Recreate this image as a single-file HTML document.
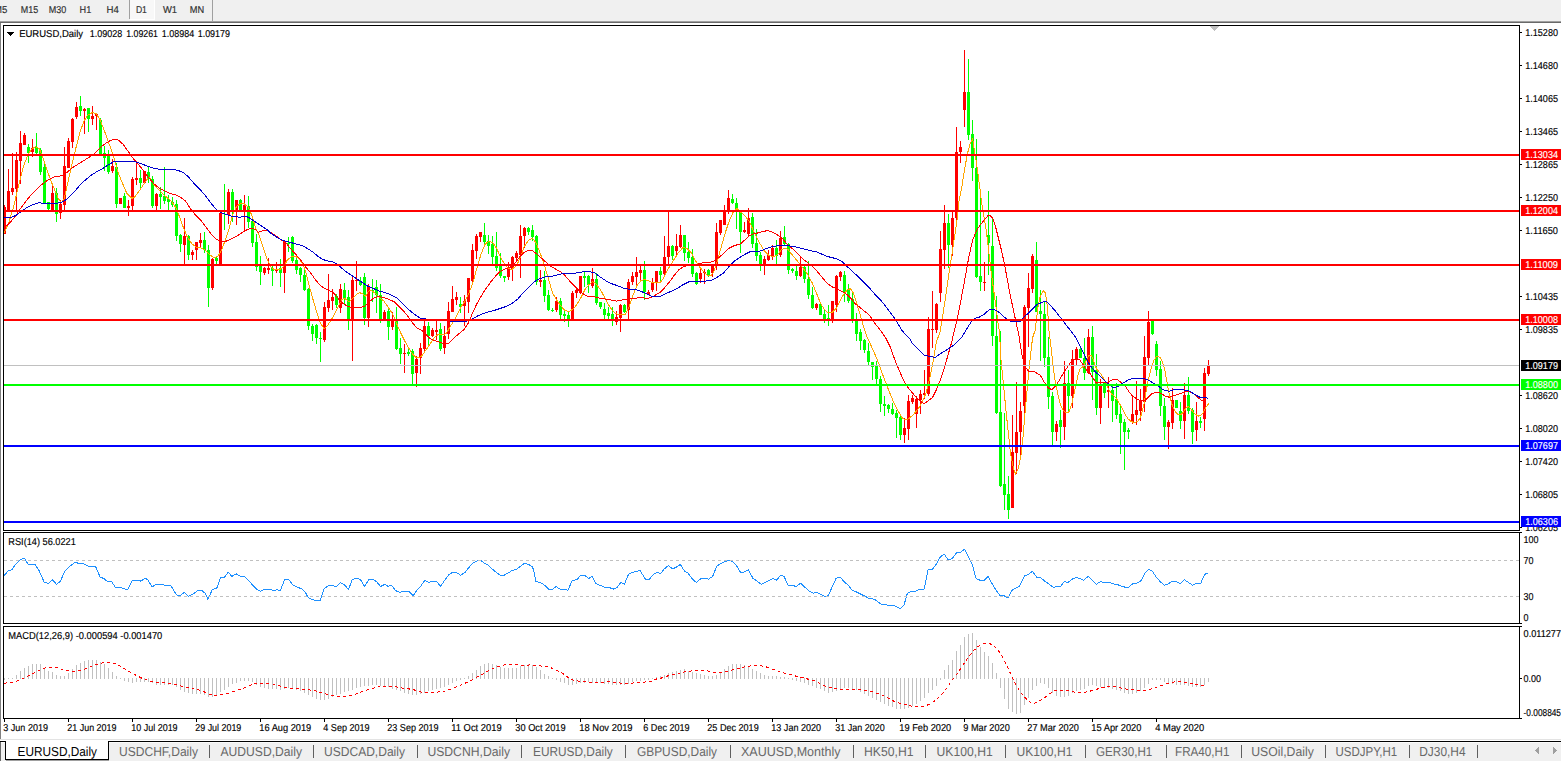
<!DOCTYPE html>
<html><head><meta charset="utf-8"><title>EURUSD,Daily</title>
<style>
html,body{margin:0;padding:0;background:#fff;overflow:hidden}
svg{display:block;font-family:"Liberation Sans", sans-serif;}
text{font-family:"Liberation Sans", sans-serif;}
.ce{shape-rendering:crispEdges}
</style></head>
<body>
<svg width="1561" height="761" viewBox="0 0 1561 761" shape-rendering="crispEdges" text-rendering="geometricPrecision">
<rect x="0" y="0" width="1561" height="761" fill="#ffffff" />
<rect x="0" y="0" width="1561" height="21" fill="#f0f0f0" />
<rect x="0" y="21" width="1561" height="1" fill="#a0a0a0" />
<rect x="0" y="22" width="1561" height="1" fill="#696969" />
<rect x="130" y="0" width="24" height="19" fill="#f8f8f8" />
<rect x="154" y="0" width="1" height="20" fill="#ffffff" />
<rect x="130" y="19" width="25" height="1" fill="#ffffff" />
<rect x="129" y="0" width="1" height="19" fill="#a0a0a0" />
<rect x="212" y="0" width="1" height="21" fill="#a0a0a0" />
<text x="-6.0" y="13" font-size="10" fill="#3c3c3c" text-anchor="start" textLength="13.3" lengthAdjust="spacingAndGlyphs" stroke="#000" stroke-width="0.15">M5</text>
<text x="20.8" y="13" font-size="10" fill="#3c3c3c" text-anchor="start" textLength="17.4" lengthAdjust="spacingAndGlyphs" stroke="#000" stroke-width="0.15">M15</text>
<text x="48.8" y="13" font-size="10" fill="#3c3c3c" text-anchor="start" textLength="17.5" lengthAdjust="spacingAndGlyphs" stroke="#000" stroke-width="0.15">M30</text>
<text x="79.6" y="13" font-size="10" fill="#3c3c3c" text-anchor="start" textLength="11.7" lengthAdjust="spacingAndGlyphs" stroke="#000" stroke-width="0.15">H1</text>
<text x="106.5" y="13" font-size="10" fill="#3c3c3c" text-anchor="start" textLength="12.3" lengthAdjust="spacingAndGlyphs" stroke="#000" stroke-width="0.15">H4</text>
<text x="135.9" y="13" font-size="10" fill="#3c3c3c" text-anchor="start" textLength="11.0" lengthAdjust="spacingAndGlyphs" stroke="#000" stroke-width="0.15">D1</text>
<text x="162.9" y="13" font-size="10" fill="#3c3c3c" text-anchor="start" textLength="14.1" lengthAdjust="spacingAndGlyphs" stroke="#000" stroke-width="0.15">W1</text>
<text x="189.8" y="13" font-size="10" fill="#3c3c3c" text-anchor="start" textLength="14.4" lengthAdjust="spacingAndGlyphs" stroke="#000" stroke-width="0.15">MN</text>
<rect x="0" y="23" width="1" height="716" fill="#808080" />
<rect x="3" y="25" width="1517" height="1" fill="#000" />
<rect x="3" y="530" width="1517" height="1" fill="#000" />
<rect x="3" y="25" width="1" height="506" fill="#000" />
<rect x="1519" y="25" width="1" height="506" fill="#000" />
<rect x="3" y="532" width="1517" height="1" fill="#000" />
<rect x="3" y="623" width="1517" height="1" fill="#000" />
<rect x="3" y="532" width="1" height="92" fill="#000" />
<rect x="1519" y="532" width="1" height="92" fill="#000" />
<rect x="3" y="626" width="1517" height="1" fill="#000" />
<rect x="3" y="718" width="1517" height="1" fill="#000" />
<rect x="3" y="626" width="1" height="93" fill="#000" />
<rect x="1519" y="626" width="1" height="93" fill="#000" />
<path d="M4 205h1v29h-1zM4 207h2v27h-2zM8 169h1v42h-1zM7 191h3v20h-3zM12 153h1v42h-1zM11 188h3v4h-3zM16 152h1v58h-1zM15 160h3v29h-3zM20 131h1v53h-1zM19 143h3v18h-3zM24 133h1v12h-1zM23 135h3v10h-3zM32 139h1v18h-1zM31 148h3v4h-3zM52 186h1v25h-1zM51 193h3v18h-3zM60 200h1v19h-1zM59 204h3v9h-3zM64 147h1v64h-1zM63 166h3v39h-3zM68 138h1v30h-1zM67 141h3v27h-3zM72 118h1v30h-1zM71 119h3v23h-3zM76 102h1v17h-1zM75 107h3v10h-3zM84 108h1v26h-1zM83 109h3v2h-3zM92 106h1v19h-1zM91 116h3v3h-3zM96 113h1v17h-1zM95 114h3v2h-3zM112 159h1v14h-1zM111 166h3v5h-3zM120 198h1v6h-1zM119 198h3v6h-3zM128 200h1v16h-1zM127 206h3v2h-3zM132 177h1v33h-1zM131 179h3v27h-3zM136 162h1v23h-1zM135 178h3v2h-3zM144 171h1v12h-1zM143 171h3v12h-3zM156 193h1v17h-1zM155 194h3v12h-3zM184 218h1v46h-1zM183 236h3v9h-3zM192 250h1v10h-1zM191 252h3v3h-3zM196 242h1v18h-1zM195 242h3v8h-3zM200 233h1v15h-1zM199 240h3v3h-3zM212 258h1v32h-1zM211 259h3v29h-3zM220 212h1v52h-1zM219 213h3v51h-3zM228 189h1v35h-1zM227 192h3v23h-3zM236 200h1v25h-1zM235 200h3v10h-3zM244 195h1v37h-1zM243 205h3v5h-3zM264 267h1v8h-1zM263 268h3v5h-3zM268 258h1v16h-1zM267 268h3v2h-3zM276 262h1v11h-1zM275 269h3v2h-3zM284 240h1v53h-1zM283 241h3v32h-3zM324 302h1v40h-1zM323 307h3v33h-3zM328 274h1v38h-1zM327 300h3v8h-3zM332 289h1v21h-1zM331 297h3v4h-3zM340 284h1v29h-1zM339 289h3v19h-3zM352 277h1v84h-1zM351 280h3v39h-3zM356 261h1v30h-1zM355 280h3v1h-3zM368 284h1v43h-1zM367 287h3v31h-3zM384 310h1v10h-1zM383 312h3v7h-3zM392 312h1v18h-1zM391 320h3v7h-3zM404 344h1v29h-1zM403 353h3v1h-3zM416 356h1v31h-1zM415 359h3v14h-3zM420 343h1v31h-1zM419 348h3v10h-3zM424 321h1v31h-1zM423 326h3v23h-3zM432 328h1v9h-1zM431 330h3v6h-3zM436 321h1v19h-1zM435 330h3v2h-3zM444 326h1v28h-1zM443 336h3v12h-3zM448 302h1v37h-1zM447 311h3v23h-3zM452 286h1v26h-1zM451 299h3v13h-3zM456 292h1v13h-1zM455 297h3v3h-3zM464 295h1v31h-1zM463 301h3v5h-3zM468 278h1v35h-1zM467 278h3v24h-3zM472 244h1v41h-1zM471 250h3v31h-3zM476 234h1v25h-1zM475 236h3v15h-3zM480 232h1v10h-1zM479 232h3v5h-3zM508 262h1v18h-1zM507 269h3v8h-3zM512 256h1v25h-1zM511 257h3v12h-3zM516 251h1v10h-1zM515 253h3v5h-3zM520 225h1v53h-1zM519 236h3v19h-3zM524 227h1v21h-1zM523 228h3v8h-3zM540 270h1v17h-1zM539 280h3v2h-3zM556 297h1v15h-1zM555 301h3v9h-3zM572 291h1v29h-1zM571 293h3v26h-3zM576 289h1v9h-1zM575 290h3v3h-3zM580 276h1v18h-1zM579 276h3v17h-3zM592 268h1v20h-1zM591 279h3v7h-3zM616 311h1v14h-1zM615 317h3v5h-3zM620 304h1v28h-1zM619 305h3v13h-3zM628 279h1v40h-1zM627 282h3v28h-3zM632 272h1v13h-1zM631 276h3v6h-3zM636 257h1v28h-1zM635 272h3v5h-3zM640 266h1v15h-1zM639 270h3v3h-3zM648 290h1v5h-1zM647 292h3v3h-3zM652 278h1v14h-1zM651 282h3v8h-3zM656 271h1v20h-1zM655 271h3v12h-3zM664 236h1v39h-1zM663 257h3v17h-3zM668 212h1v52h-1zM667 246h3v11h-3zM676 234h1v21h-1zM675 246h3v5h-3zM680 225h1v23h-1zM679 235h3v12h-3zM700 269h1v14h-1zM699 273h3v6h-3zM704 269h1v15h-1zM703 272h3v1h-3zM712 264h1v13h-1zM711 266h3v7h-3zM716 223h1v47h-1zM715 232h3v34h-3zM720 220h1v15h-1zM719 220h3v13h-3zM724 205h1v20h-1zM723 210h3v15h-3zM728 190h1v24h-1zM727 198h3v13h-3zM744 222h1v11h-1zM743 230h3v2h-3zM748 208h1v28h-1zM747 218h3v16h-3zM764 256h1v19h-1zM763 259h3v6h-3zM768 250h1v11h-1zM767 255h3v5h-3zM772 245h1v15h-1zM771 248h3v9h-3zM780 231h1v26h-1zM779 238h3v17h-3zM800 256h1v21h-1zM799 267h3v9h-3zM816 303h1v7h-1zM815 304h3v4h-3zM832 301h1v22h-1zM831 301h3v20h-3zM836 275h1v37h-1zM835 276h3v29h-3zM840 271h1v10h-1zM839 272h3v5h-3zM904 418h1v25h-1zM903 428h3v7h-3zM908 395h1v45h-1zM907 401h3v28h-3zM912 395h1v9h-1zM911 398h3v4h-3zM916 396h1v32h-1zM915 399h3v15h-3zM920 390h1v24h-1zM919 394h3v6h-3zM924 370h1v29h-1zM923 393h3v2h-3zM928 317h1v79h-1zM927 329h3v65h-3zM932 291h1v57h-1zM931 329h3v1h-3zM936 303h1v30h-1zM935 304h3v26h-3zM940 231h1v71h-1zM939 249h3v44h-3zM944 205h1v64h-1zM943 223h3v27h-3zM952 212h1v44h-1zM951 218h3v27h-3zM956 127h1v97h-1zM955 152h3v66h-3zM960 141h1v22h-1zM959 147h3v5h-3zM964 50h1v77h-1zM963 92h3v18h-3zM984 262h1v29h-1zM983 282h3v1h-3zM1012 415h1v93h-1zM1011 452h3v56h-3zM1016 382h1v92h-1zM1015 432h3v21h-3zM1020 402h1v54h-1zM1019 411h3v21h-3zM1024 305h1v111h-1zM1023 307h3v99h-3zM1028 273h1v74h-1zM1027 288h3v20h-3zM1032 254h1v39h-1zM1031 256h3v33h-3zM1056 421h1v20h-1zM1055 424h3v8h-3zM1064 361h1v79h-1zM1063 383h3v44h-3zM1072 350h1v58h-1zM1071 359h3v37h-3zM1076 347h1v19h-1zM1075 349h3v10h-3zM1088 329h1v45h-1zM1087 337h3v36h-3zM1100 379h1v45h-1zM1099 386h3v22h-3zM1108 377h1v31h-1zM1107 390h3v2h-3zM1132 396h1v28h-1zM1131 414h3v8h-3zM1136 381h1v44h-1zM1135 410h3v5h-3zM1140 389h1v32h-1zM1139 401h3v10h-3zM1144 336h1v76h-1zM1143 357h3v45h-3zM1148 311h1v54h-1zM1147 322h3v36h-3zM1168 420h1v29h-1zM1167 422h3v5h-3zM1172 388h1v41h-1zM1171 400h3v23h-3zM1184 383h1v56h-1zM1183 395h3v26h-3zM1196 402h1v39h-1zM1195 421h3v9h-3zM1204 368h1v63h-1zM1203 373h3v46h-3zM1208 360h1v16h-1zM1207 365h3v9h-3z" fill="#ff0000"/>
<path d="M28 144h1v19h-1zM27 147h3v6h-3zM36 133h1v21h-1zM35 147h3v6h-3zM40 148h1v27h-1zM39 150h3v22h-3zM44 163h1v41h-1zM43 167h3v37h-3zM48 202h1v8h-1zM47 202h3v7h-3zM56 188h1v34h-1zM55 193h3v21h-3zM80 96h1v20h-1zM79 106h3v5h-3zM88 108h1v24h-1zM87 108h3v11h-3zM100 118h1v36h-1zM99 120h3v34h-3zM104 146h1v25h-1zM103 153h3v5h-3zM108 150h1v24h-1zM107 156h3v16h-3zM116 163h1v45h-1zM115 167h3v37h-3zM124 193h1v15h-1zM123 196h3v12h-3zM140 170h1v19h-1zM139 178h3v5h-3zM148 166h1v17h-1zM147 172h3v7h-3zM152 176h1v32h-1zM151 179h3v27h-3zM160 187h1v22h-1zM159 194h3v3h-3zM164 167h1v37h-1zM163 196h3v5h-3zM168 195h1v15h-1zM167 199h3v3h-3zM172 197h1v10h-1zM171 202h3v3h-3zM176 200h1v41h-1zM175 204h3v32h-3zM180 234h1v18h-1zM179 235h3v9h-3zM188 235h1v25h-1zM187 236h3v19h-3zM204 232h1v21h-1zM203 240h3v10h-3zM208 245h1v62h-1zM207 250h3v38h-3zM216 257h1v7h-1zM215 258h3v3h-3zM224 184h1v46h-1zM223 210h3v2h-3zM232 189h1v33h-1zM231 192h3v18h-3zM240 199h1v13h-1zM239 200h3v10h-3zM248 196h1v32h-1zM247 206h3v16h-3zM252 217h1v30h-1zM251 221h3v22h-3zM256 234h1v37h-1zM255 242h3v25h-3zM260 256h1v29h-1zM259 266h3v6h-3zM272 266h1v20h-1zM271 268h3v3h-3zM280 259h1v28h-1zM279 268h3v5h-3zM288 237h1v15h-1zM287 243h3v1h-3zM292 236h1v27h-1zM291 237h3v24h-3zM296 256h1v18h-1zM295 260h3v10h-3zM300 267h1v15h-1zM299 268h3v7h-3zM304 270h1v21h-1zM303 275h3v15h-3zM308 288h1v42h-1zM307 289h3v37h-3zM312 324h1v17h-1zM311 326h3v8h-3zM316 324h1v20h-1zM315 325h3v13h-3zM320 332h1v30h-1zM319 338h3v1h-3zM336 294h1v14h-1zM335 296h3v9h-3zM344 283h1v22h-1zM343 290h3v8h-3zM348 290h1v40h-1zM347 297h3v22h-3zM360 277h1v9h-1zM359 281h3v4h-3zM364 273h1v52h-1zM363 277h3v41h-3zM372 279h1v23h-1zM371 290h3v1h-3zM376 280h1v33h-1zM375 287h3v8h-3zM380 284h1v39h-1zM379 295h3v24h-3zM388 309h1v31h-1zM387 311h3v16h-3zM396 307h1v43h-1zM395 321h3v28h-3zM400 338h1v26h-1zM399 348h3v6h-3zM408 349h1v7h-1zM407 352h3v2h-3zM412 349h1v35h-1zM411 351h3v23h-3zM428 322h1v23h-1zM427 326h3v10h-3zM440 323h1v28h-1zM439 329h3v20h-3zM460 297h1v16h-1zM459 304h3v3h-3zM484 223h1v23h-1zM483 235h3v7h-3zM488 235h1v19h-1zM487 241h3v5h-3zM492 236h1v28h-1zM491 244h3v13h-3zM496 232h1v39h-1zM495 256h3v12h-3zM500 253h1v25h-1zM499 266h3v10h-3zM504 276h1v6h-1zM503 276h3v2h-3zM528 227h1v8h-1zM527 228h3v4h-3zM532 225h1v16h-1zM531 230h3v7h-3zM536 235h1v50h-1zM535 236h3v46h-3zM544 271h1v31h-1zM543 280h3v16h-3zM548 290h1v21h-1zM547 295h3v15h-3zM552 308h1v4h-1zM551 310h3v1h-3zM560 298h1v22h-1zM559 301h3v14h-3zM564 311h1v11h-1zM563 314h3v2h-3zM568 312h1v15h-1zM567 315h3v4h-3zM584 272h1v15h-1zM583 276h3v2h-3zM588 275h1v18h-1zM587 276h3v9h-3zM596 273h1v32h-1zM595 279h3v24h-3zM600 302h1v7h-1zM599 302h3v5h-3zM604 303h1v16h-1zM603 309h3v6h-3zM608 307h1v12h-1zM607 313h3v3h-3zM612 307h1v19h-1zM611 314h3v6h-3zM624 304h1v9h-1zM623 305h3v7h-3zM644 261h1v39h-1zM643 270h3v22h-3zM660 267h1v15h-1zM659 271h3v4h-3zM672 245h1v15h-1zM671 246h3v10h-3zM684 235h1v26h-1zM683 235h3v18h-3zM688 242h1v21h-1zM687 252h3v6h-3zM692 249h1v28h-1zM691 257h3v17h-3zM696 272h1v13h-1zM695 273h3v11h-3zM708 269h1v8h-1zM707 270h3v5h-3zM732 194h1v10h-1zM731 199h3v4h-3zM736 198h1v31h-1zM735 203h3v7h-3zM740 212h1v41h-1zM739 212h3v20h-3zM752 213h1v35h-1zM751 217h3v27h-3zM756 229h1v32h-1zM755 243h3v13h-3zM760 252h1v19h-1zM759 255h3v9h-3zM776 240h1v24h-1zM775 248h3v8h-3zM784 226h1v20h-1zM783 237h3v7h-3zM788 243h1v31h-1zM787 244h3v26h-3zM792 268h1v5h-1zM791 269h3v2h-3zM796 266h1v14h-1zM795 271h3v5h-3zM804 266h1v17h-1zM803 267h3v12h-3zM808 261h1v38h-1zM807 279h3v16h-3zM812 287h1v22h-1zM811 295h3v13h-3zM820 302h1v13h-1zM819 304h3v11h-3zM824 309h1v14h-1zM823 314h3v6h-3zM828 305h1v21h-1zM827 318h3v2h-3zM844 271h1v31h-1zM843 275h3v17h-3zM848 284h1v19h-1zM847 289h3v12h-3zM852 293h1v30h-1zM851 299h3v22h-3zM856 313h1v28h-1zM855 321h3v13h-3zM860 329h1v21h-1zM859 332h3v9h-3zM864 339h1v14h-1zM863 340h3v10h-3zM868 343h1v22h-1zM867 351h3v11h-3zM872 362h1v18h-1zM871 362h3v5h-3zM876 361h1v23h-1zM875 366h3v13h-3zM880 376h1v36h-1zM879 379h3v25h-3zM884 396h1v20h-1zM883 404h3v2h-3zM888 404h1v9h-1zM887 405h3v4h-3zM892 403h1v12h-1zM891 409h3v5h-3zM896 410h1v28h-1zM895 413h3v5h-3zM900 416h1v24h-1zM899 417h3v18h-3zM948 214h1v54h-1zM947 223h3v22h-3zM968 59h1v81h-1zM967 92h3v43h-3zM972 120h1v61h-1zM971 134h3v34h-3zM976 139h1v139h-1zM975 168h3v109h-3zM980 197h1v94h-1zM979 276h3v6h-3zM988 191h1v84h-1zM987 235h3v8h-3zM992 217h1v129h-1zM991 246h3v90h-3zM996 296h1v118h-1zM995 336h3v77h-3zM1000 331h1v156h-1zM999 412h3v74h-3zM1004 413h1v97h-1zM1003 484h3v11h-3zM1008 476h1v43h-1zM1007 494h3v16h-3zM1036 242h1v70h-1zM1035 260h3v52h-3zM1040 290h1v71h-1zM1039 311h3v3h-3zM1044 301h1v66h-1zM1043 314h3v44h-3zM1048 337h1v72h-1zM1047 357h3v40h-3zM1052 392h1v53h-1zM1051 396h3v36h-3zM1060 410h1v38h-1zM1059 420h3v7h-3zM1068 370h1v42h-1zM1067 383h3v13h-3zM1080 348h1v10h-1zM1079 349h3v9h-3zM1084 338h1v42h-1zM1083 358h3v15h-3zM1092 326h1v74h-1zM1091 337h3v35h-3zM1096 354h1v61h-1zM1095 370h3v38h-3zM1104 383h1v15h-1zM1103 383h3v10h-3zM1112 386h1v36h-1zM1111 390h3v11h-3zM1116 383h1v36h-1zM1115 399h3v16h-3zM1120 405h1v49h-1zM1119 414h3v9h-3zM1124 419h1v51h-1zM1123 422h3v10h-3zM1128 428h1v11h-1zM1127 430h3v2h-3zM1152 320h1v15h-1zM1151 321h3v13h-3zM1156 341h1v35h-1zM1155 344h3v26h-3zM1160 361h1v55h-1zM1159 369h3v37h-3zM1164 398h1v42h-1zM1163 406h3v21h-3zM1176 400h1v8h-1zM1175 400h3v8h-3zM1180 402h1v27h-1zM1179 411h3v10h-3zM1188 377h1v37h-1zM1187 395h3v16h-3zM1192 408h1v36h-1zM1191 410h3v22h-3zM1200 417h1v11h-1zM1199 421h3v2h-3z" fill="#00ff00"/>
<path d="M4.2 232.6L8.6 223.0L13.5 207.6L18.3 186.5L23.1 167.3L27.9 154.8L31.7 149.0L35.6 146.7L39.4 149.0L43.2 158.6L47.1 170.2L50.9 180.7L54.8 190.3L58.6 199.0L61.5 202.8L64.4 198.0L68.2 180.7L72.1 163.4L75.9 148.0L79.8 132.7L83.6 122.1L87.4 115.4L92.3 112.5L96.1 113.8L99.9 119.2L104.7 131.7L109.6 145.2L114.4 159.6L118.2 173.0L123.0 184.6L126.8 193.2L131.7 198.4L134.5 197.1L140.3 189.4L146.1 180.7L149.0 176.9L153.8 184.6L159.5 190.3L165.3 196.1L171.1 200.9L175.9 207.6L179.7 217.2L183.5 227.8L187.4 237.4L192.2 244.1L196.3 247.1L201.1 248.1L205.0 250.0L208.8 253.8L213.6 257.7L217.5 256.7L221.3 250.9L225.2 240.4L229.0 228.8L232.6 215.3L236.4 206.7L240.2 203.8L244.1 203.8L247.9 206.7L251.8 215.3L255.6 227.8L258.8 234.6L262.6 246.1L266.5 257.7L270.3 266.3L274.2 269.6L279.9 269.6L283.8 266.3L287.6 259.6L291.5 256.7L295.3 256.3L299.2 258.6L303.0 264.4L305.9 273.0L308.8 284.6L312.6 298.0L316.5 311.5L320.3 323.0L324.1 328.8L328.0 324.9L332.8 317.3L337.6 307.6L341.4 300.0L344.3 298.0L349.1 301.9L353.0 298.0L356.8 294.2L359.7 292.7L362.6 293.8L365.5 296.5L368.4 291.3L371.2 290.3L375.1 293.2L378.9 297.1L383.7 300.9L388.5 307.6L393.3 315.3L397.2 324.9L401.0 333.6L404.9 341.3L408.7 348.0L412.6 354.2L416.8 358.0L421.2 356.7L426.0 349.9L429.9 344.2L433.7 338.4L437.5 334.9L442.3 334.6L446.2 333.6L450.0 326.9L454.8 319.2L459.6 309.6L464.8 301.1L469.6 291.5L473.5 280.9L477.3 266.5L481.1 254.0L485.0 244.4L488.8 241.1L492.7 242.5L496.5 248.2L500.4 256.9L504.2 263.6L508.0 268.4L511.9 269.4L516.7 265.5L520.5 256.9L524.4 246.3L528.2 240.6L532.1 238.1L535.9 242.5L539.8 252.1L543.6 262.7L546.5 272.3L549.4 281.9L552.3 292.4L556.1 299.2L559.9 304.9L564.7 310.3L568.6 311.7L573.4 308.8L577.2 304.0L581.1 297.3L584.9 289.6L588.8 284.8L592.6 281.5L596.5 284.2L600.3 289.6L604.1 296.3L608.0 304.0L611.8 309.7L615.7 313.6L620.5 314.9L625.3 314.2L629.1 306.9L633.0 295.3L636.8 285.7L640.7 280.9L644.5 279.6L648.4 280.9L652.2 282.3L659.9 282.8L663.7 278.0L668.5 268.4L673.3 260.7L678.1 253.0L682.9 247.7L686.8 248.2L691.6 253.0L695.4 260.7L699.3 266.5L703.1 271.3L707.0 275.2L710.8 275.7L713.7 272.3L717.5 260.7L721.4 246.3L725.2 232.9L729.1 221.3L732.9 212.7L736.8 208.5L740.0 211.5L744.8 215.4L749.6 222.1L754.4 232.7L759.2 242.3L764.0 250.4L768.8 255.4L773.6 256.7L777.5 254.8L781.3 249.6L785.2 248.0L788.0 249.6L792.9 255.7L797.7 261.5L802.5 267.3L807.3 274.0L812.1 282.6L816.9 294.2L820.7 303.8L824.6 309.6L828.4 313.0L832.3 312.4L836.1 308.6L839.9 300.9L843.8 294.2L847.6 289.4L850.5 288.8L853.4 293.2L856.3 301.9L859.2 311.5L863.0 324.9L866.8 336.5L869.2 341.5L874.0 352.1L878.8 363.6L883.6 377.1L888.4 389.6L893.2 401.1L898.0 410.7L901.9 417.4L904.8 419.9L908.6 418.8L913.4 414.6L918.2 408.8L922.1 402.1L925.9 393.4L929.8 378.0L933.6 358.8L936.5 341.5L939.9 332.6L942.8 315.3L945.7 296.1L948.5 276.9L951.4 257.7L954.3 238.4L957.2 219.2L959.1 200.0L961.5 188.8L964.4 170.4L967.5 153.4L970.0 144.2L972.7 138.3L974.0 148.1L976.0 160.0L978.0 174.4L980.0 188.8L981.2 200.0L983.7 215.4L986.0 228.8L987.9 244.2L989.9 261.5L991.8 276.9L993.7 290.3L995.6 303.8L997.5 319.2L999.5 332.6L1000.9 358.8L1002.8 378.0L1004.7 397.3L1006.6 416.5L1008.6 435.7L1010.5 453.0L1013.4 468.4L1015.7 474.1L1018.2 468.4L1021.1 454.9L1023.0 437.6L1024.9 414.6L1026.8 393.4L1028.7 372.3L1030.7 353.1L1032.6 337.7L1035.0 330.7L1037.9 307.6L1039.8 298.0L1041.5 293.5L1043.5 291.0L1045.5 293.0L1047.5 308.0L1048.9 330.0L1050.8 345.4L1052.8 362.7L1054.7 378.0L1057.6 393.4L1060.5 405.0L1063.3 410.7L1066.2 413.0L1069.1 411.7L1072.0 403.0L1074.9 389.6L1077.8 376.1L1080.0 368.9L1083.3 366.3L1085.9 361.0L1088.5 356.0L1091.2 355.8L1093.1 359.1L1095.1 365.6L1097.1 369.6L1101.0 374.2L1105.0 380.7L1108.3 388.6L1111.5 393.9L1114.8 396.5L1118.1 401.1L1121.4 407.0L1124.7 413.6L1128.0 418.8L1131.2 421.7L1134.5 422.5L1137.8 421.2L1140.4 417.5L1142.4 411.0L1144.4 401.8L1146.4 389.9L1148.3 379.4L1151.0 368.9L1153.6 361.0L1156.2 356.8L1158.2 356.4L1160.4 357.7L1162.8 363.0L1164.8 370.2L1166.7 380.7L1168.7 391.2L1170.7 400.4L1172.6 406.4L1175.3 411.6L1177.9 414.2L1180.5 414.9L1183.2 412.3L1185.8 408.3L1188.4 406.4L1191.0 409.0L1193.7 412.9L1196.3 414.9L1198.9 416.2L1201.6 414.9L1204.2 411.0L1206.1 407.0L1208.8 403.3" fill="none" stroke="#ffa500" stroke-width="1" shape-rendering="crispEdges" stroke-linejoin="round"/>
<path d="M4.2 227.8L9.6 223.0L15.4 216.3L21.1 207.6L26.9 199.9L32.7 193.2L38.4 187.4L44.2 182.6L50.0 178.8L54.8 176.5L61.5 175.9L66.3 173.0L73.0 167.3L80.7 162.5L88.4 157.7L94.2 153.8L99.9 148.0L105.7 143.2L110.5 140.4L114.4 139.2L118.2 140.0L123.0 144.2L127.8 150.9L132.6 157.7L138.4 164.4L143.2 170.2L148.0 176.9L153.8 183.6L159.5 188.4L165.3 191.3L171.1 193.8L176.8 195.1L181.6 198.0L185.5 200.9L190.3 208.6L194.1 213.4L199.9 219.2L205.7 226.8L211.4 234.5L216.2 239.3L221.0 241.3L225.8 241.3L230.6 239.3L236.4 236.5L242.2 232.6L247.0 229.7L250.8 228.4L254.7 229.2L258.5 232.2L263.3 230.7L266.2 230.3L271.0 232.6L276.8 236.5L281.6 240.3L286.4 243.2L289.6 247.7L295.3 253.8L301.1 260.6L305.9 267.3L310.7 273.0L315.5 279.8L320.3 285.5L325.1 288.8L329.0 290.3L333.8 293.2L338.6 299.0L343.4 303.8L348.2 306.7L353.0 307.6L360.7 307.6L365.5 305.7L369.3 301.9L374.1 297.7L378.9 296.5L383.7 297.7L389.5 299.6L394.3 301.9L399.1 306.7L403.9 311.5L408.7 317.3L412.6 323.0L417.4 328.4L422.2 330.7L426.0 334.6L429.9 338.4L434.7 340.7L439.5 342.2L444.3 343.8L448.1 343.8L452.0 340.3L456.8 335.5L460.0 332.8L463.8 329.9L467.7 324.2L471.5 315.5L476.3 304.9L481.1 296.3L485.9 288.6L490.8 281.9L495.6 276.1L500.4 271.3L505.2 268.8L510.0 267.5L514.8 263.6L519.6 256.9L524.4 252.1L528.2 250.6L532.1 250.6L536.9 254.0L541.7 258.4L546.5 262.7L551.3 266.5L556.1 269.4L559.9 271.3L564.7 275.2L569.6 280.9L574.4 285.7L579.2 290.5L584.0 294.4L587.8 296.3L594.5 296.9L600.3 298.2L606.1 299.2L611.8 300.1L616.6 301.1L621.4 300.1L627.2 299.2L633.0 298.2L640.7 297.8L647.4 298.2L651.2 297.6L655.1 295.3L659.9 292.4L664.7 287.6L669.5 281.9L674.3 275.2L679.1 269.4L683.9 266.5L688.7 265.5L696.4 264.6L703.1 262.7L709.9 262.3L714.7 260.7L719.5 256.9L724.3 253.0L729.1 248.2L734.8 245.4L740.0 244.2L744.8 240.0L749.6 235.6L754.4 233.6L759.2 232.7L764.0 231.1L768.8 230.8L773.6 232.7L778.4 235.6L783.2 239.4L788.0 245.2L792.9 249.0L797.7 253.8L802.5 258.6L807.3 262.5L812.1 266.3L816.9 271.1L821.7 276.9L826.5 282.6L831.3 286.5L835.1 288.0L839.0 289.9L843.8 292.3L847.6 295.1L851.5 299.0L855.3 303.8L860.1 307.6L864.9 311.5L869.7 315.3L874.5 323.0L879.3 328.8L885.6 337.7L890.4 347.3L895.2 360.8L900.0 372.3L904.8 382.9L909.6 389.6L914.4 395.3L919.2 400.2L924.0 404.0L927.8 401.1L932.6 397.3L936.5 389.6L940.3 380.0L944.2 368.4L948.0 355.0L951.9 341.5L953.3 334.5L957.2 319.2L961.0 299.9L964.9 278.8L968.7 257.7L972.6 240.4L976.4 230.8L980.2 225.0L984.1 220.2L987.9 215.8L989.9 215.4L992.7 218.3L995.6 226.9L998.5 238.4L1001.4 250.0L1004.3 263.4L1007.2 278.8L1010.0 294.2L1012.9 307.6L1015.8 321.1L1018.7 334.5L1022.0 355.0L1024.9 366.5L1028.7 371.3L1034.5 371.9L1040.3 375.2L1044.1 381.9L1048.0 387.7L1051.8 389.6L1055.7 385.7L1059.5 380.0L1063.3 373.2L1067.2 367.5L1071.0 361.7L1075.8 358.8L1079.7 359.8L1083.3 365.0L1086.6 370.2L1089.9 373.5L1093.1 378.1L1096.4 383.1L1108.3 382.0L1111.5 380.1L1114.8 379.2L1118.1 380.1L1121.4 382.7L1125.3 386.0L1128.6 391.2L1131.9 395.2L1135.2 397.8L1138.5 399.8L1141.8 400.7L1145.0 400.7L1148.3 397.2L1151.6 393.9L1154.9 392.6L1158.8 392.6L1162.1 394.1L1166.1 396.5L1169.4 397.2L1173.3 395.8L1177.2 394.5L1181.2 393.2L1185.1 391.5L1188.4 391.5L1191.7 392.6L1195.0 394.5L1198.3 397.8L1201.6 400.4L1204.2 400.4" fill="none" stroke="#ff0000" stroke-width="1" shape-rendering="crispEdges" stroke-linejoin="round"/>
<path d="M4.2 217.2L11.5 217.2L16.3 215.3L21.1 211.5L26.9 207.6L32.7 204.7L38.4 202.8L44.2 203.2L57.7 203.2L62.5 201.9L67.3 199.0L73.0 193.2L78.8 186.5L84.6 180.7L90.3 175.9L96.1 172.1L101.9 169.2L107.6 165.3L113.4 161.9L117.2 161.5L134.5 161.5L140.3 163.4L148.0 166.3L153.8 168.2L159.5 169.2L173.0 169.2L178.7 170.7L183.5 172.7L188.4 176.9L194.1 183.6L199.9 189.4L205.7 196.1L211.4 203.8L217.2 210.5L222.9 213.4L228.7 215.3L232.6 216.5L240.2 217.2L246.0 216.3L249.9 218.2L255.6 222.0L261.4 225.9L267.2 229.7L271.3 233.6L277.1 237.5L282.8 240.4L288.6 241.9L295.3 243.8L301.1 245.2L306.8 248.1L312.6 251.9L318.4 256.7L323.2 259.6L328.0 261.1L333.8 262.1L339.5 266.3L345.3 271.1L351.1 275.0L356.8 278.8L362.6 282.7L368.4 286.5L374.1 288.8L379.9 291.3L385.7 292.7L391.4 295.2L397.2 298.0L402.9 303.8L408.7 309.6L414.5 314.4L420.2 318.2L423.1 318.8L451.0 321.1L458.7 321.5L460.0 321.3L465.8 321.3L471.5 319.4L477.3 316.1L483.1 313.6L488.8 311.7L494.6 310.3L500.4 308.4L506.1 306.5L511.9 303.4L517.7 299.2L523.4 292.4L529.2 286.7L534.0 281.9L538.8 279.0L544.6 277.1L552.3 276.1L559.9 274.2L567.6 273.2L575.3 273.2L583.0 271.9L590.7 271.9L594.5 272.7L600.3 277.1L606.1 280.9L611.8 283.8L617.6 285.7L623.4 288.0L629.1 289.2L635.9 289.6L640.7 291.1L646.4 293.8L652.2 296.7L659.9 296.7L665.7 293.8L671.4 291.1L677.2 288.6L682.9 284.8L688.7 281.9L696.4 281.3L704.1 281.3L711.8 280.3L717.5 277.1L723.3 273.2L729.1 266.5L734.8 260.7L740.0 257.3L745.8 253.8L750.6 251.5L759.2 251.5L765.0 249.0L770.8 247.1L778.4 245.6L786.1 245.6L793.8 246.5L801.5 248.4L809.2 250.4L816.9 251.9L824.6 255.4L830.3 257.3L836.1 258.6L841.9 261.5L844.7 264.4L850.5 269.6L855.3 274.0L861.1 279.8L865.9 284.6L870.7 289.4L876.5 296.1L882.2 301.9L888.0 309.6L893.8 317.2L897.6 323.0L901.4 329.7L905.3 334.5L910.1 339.3L912.5 343.5L918.2 349.2L924.0 355.0L929.8 356.5L935.5 357.3L941.3 353.1L948.0 349.2L954.7 344.4L961.5 337.7L962.0 336.8L966.8 328.8L971.6 321.1L975.4 318.2L979.3 317.2L984.1 314.4L988.9 309.9L992.7 309.2L996.6 310.5L1001.4 314.4L1006.2 318.8L1011.0 321.5L1020.6 321.5L1024.5 316.3L1028.3 313.4L1032.1 309.6L1036.0 305.3L1039.4 303.4L1042.0 302.5L1044.5 301.5L1047.0 302.0L1050.0 305.0L1055.0 310.5L1060.0 317.0L1065.0 323.5L1070.1 330.0L1075.8 337.7L1080.6 347.3L1083.3 352.5L1086.6 359.7L1089.9 365.0L1093.1 369.2L1096.4 372.9L1099.7 375.5L1103.7 379.4L1107.6 383.4L1112.2 387.0L1115.5 387.3L1118.8 386.0L1122.0 383.4L1125.3 381.8L1129.3 379.4L1133.9 378.4L1139.1 378.1L1144.4 378.8L1148.3 380.1L1151.6 382.0L1154.9 384.0L1158.2 386.0L1161.5 388.6L1165.4 390.6L1169.4 391.2L1173.3 389.9L1177.9 389.3L1181.8 389.3L1185.1 390.2L1188.4 390.6L1191.7 392.6L1195.0 394.5L1198.3 396.5L1200.9 397.6L1206.1 397.6L1208.1 398.5" fill="none" stroke="#0000cd" stroke-width="1" shape-rendering="crispEdges" stroke-linejoin="round"/>
<path d="M4.0 575.7L8.1 570.9L12.1 569.5L16.1 563.6L20.2 560.1L24.2 558.0L28.2 564.4L35.0 564.4L39.0 570.4L44.4 582.5L48.4 583.3L52.5 579.8L56.5 584.3L60.5 581.1L64.6 571.7L69.9 566.3L75.3 562.3L79.4 563.6L83.4 563.6L88.8 566.3L95.5 566.3L100.1 577.1L103.6 578.4L107.6 581.7L111.6 581.7L115.7 587.8L119.7 587.0L125.1 589.2L127.8 589.2L132.4 580.3L138.6 580.3L140.4 581.1L145.3 578.4L148.0 579.8L152.0 587.0L156.0 584.3L161.4 584.3L165.5 585.4L170.8 585.4L176.2 594.6L179.7 595.9L184.3 592.4L188.3 596.2L192.4 594.6L197.7 590.5L201.8 590.5L205.0 593.2L208.0 599.4L212.5 589.2L216.6 588.6L220.6 577.6L224.6 577.1L228.1 572.2L231.9 576.3L236.2 573.9L240.8 576.3L244.3 576.5L248.9 581.1L252.9 585.2L256.9 589.2L260.4 591.3L265.0 589.2L270.4 589.2L273.1 590.5L277.1 589.7L280.3 590.5L284.6 579.8L288.4 579.2L293.2 585.2L297.3 587.3L301.3 588.6L305.4 592.4L308.0 597.3L312.1 599.4L316.1 600.5L320.2 600.5L324.2 588.4L328.2 586.0L332.3 585.4L336.3 587.0L340.3 582.5L344.4 584.6L348.4 589.7L352.4 579.2L357.8 578.4L361.0 580.3L364.5 586.5L368.6 579.8L372.6 579.2L376.6 581.7L380.7 586.5L384.7 584.3L388.2 586.5L391.4 585.2L395.5 590.5L399.5 592.4L403.6 591.3L408.4 591.3L410.0 592.4L413.2 595.9L416.7 590.5L420.8 586.0L424.8 580.3L428.8 582.5L432.9 581.1L436.9 581.7L440.4 586.5L445.0 579.8L449.0 574.4L453.0 572.2L457.1 573.0L460.6 575.2L465.2 572.2L469.2 567.1L473.2 562.8L477.3 560.9L480.5 560.4L484.0 562.8L488.0 565.0L492.1 569.0L496.1 572.2L500.1 575.2L504.2 575.2L508.2 573.0L512.2 570.4L516.3 569.5L520.3 566.3L524.3 563.4L528.4 564.4L532.4 566.9L533.8 570.4L535.9 581.7L540.5 582.5L544.5 585.2L548.6 589.2L552.6 589.2L556.1 586.5L560.1 589.2L564.7 589.2L567.9 590.5L572.2 580.3L576.8 579.8L580.3 575.7L584.3 575.2L588.9 578.4L592.1 576.3L596.2 583.8L601.0 585.7L605.0 587.3L609.1 587.3L613.1 589.2L617.2 587.3L620.7 582.5L624.4 584.3L628.5 574.4L632.0 572.2L636.0 571.7L640.0 570.4L645.4 579.2L649.4 579.2L653.5 574.4L657.0 572.2L660.7 573.6L664.2 569.0L668.3 565.5L672.8 569.0L676.3 567.1L680.4 564.4L684.4 570.9L687.9 573.0L692.5 579.2L696.5 582.5L701.1 578.4L705.9 578.4L708.6 579.2L712.7 576.3L716.7 566.3L720.7 563.6L725.3 561.5L729.6 560.4L733.6 562.3L736.9 566.3L740.9 573.0L744.9 571.7L748.4 569.8L753.0 578.4L757.1 581.1L761.1 584.3L765.1 582.5L769.2 580.3L773.2 578.4L776.4 580.3L780.7 575.2L784.0 576.3L788.0 585.2L792.0 585.2L796.1 586.5L800.6 583.3L805.5 587.8L809.5 591.3L813.6 593.2L816.8 592.4L820.0 594.0L824.0 596.2L828.1 595.9L832.1 587.0L836.1 578.4L840.2 577.1L844.2 581.7L848.2 585.2L852.3 590.5L856.3 591.9L860.4 594.0L864.4 595.9L868.4 598.1L872.5 598.6L876.5 600.5L880.5 604.0L884.6 604.5L888.6 605.3L892.6 605.3L896.7 606.7L900.2 608.6L903.9 605.3L907.4 593.2L911.5 591.3L915.5 591.3L919.5 589.2L924.1 589.2L928.2 569.5L932.2 569.5L936.2 564.4L940.3 556.9L944.3 554.2L948.3 560.1L952.4 558.2L956.4 552.9L960.4 552.3L964.5 549.4L968.5 556.9L972.5 565.0L976.0 578.4L980.1 580.3L984.1 580.3L988.1 576.3L992.2 583.8L996.2 590.5L1000.3 595.9L1004.3 595.9L1007.8 597.8L1012.4 589.7L1016.4 587.8L1019.6 586.0L1024.5 575.7L1028.5 574.4L1032.5 571.2L1036.6 577.1L1040.6 577.6L1044.6 581.1L1048.7 583.8L1053.3 587.3L1056.8 586.5L1060.8 586.0L1064.3 581.7L1068.0 582.5L1072.1 579.2L1075.6 577.6L1079.6 578.4L1083.7 580.3L1088.2 576.3L1092.3 580.3L1096.3 584.3L1100.3 581.7L1105.2 582.5L1109.2 582.5L1113.2 583.8L1117.3 584.6L1121.3 586.0L1125.4 587.3L1128.6 587.3L1132.6 583.8L1136.7 583.3L1140.7 581.1L1144.7 573.6L1148.8 569.5L1152.3 571.2L1156.3 577.1L1160.3 581.7L1164.4 585.2L1168.4 583.8L1172.4 581.1L1176.5 581.9L1180.5 583.8L1184.5 579.8L1188.6 582.5L1192.6 585.2L1196.6 583.3L1200.7 583.3L1204.7 574.4L1207.4 573.0" fill="none" stroke="#1e90ff" stroke-width="1" shape-rendering="crispEdges" stroke-linejoin="round"/>
<path d="M4 678h1v2h-1zM8 678h1v1h-1zM12 678h1v1h-1zM16 675h1v4h-1zM20 671h1v8h-1zM24 668h1v11h-1zM28 666h1v13h-1zM32 664h1v15h-1zM36 664h1v15h-1zM40 664h1v15h-1zM44 668h1v11h-1zM48 671h1v8h-1zM52 672h1v7h-1zM56 675h1v4h-1zM60 676h1v3h-1zM64 676h1v3h-1zM68 673h1v6h-1zM72 669h1v10h-1zM76 665h1v14h-1zM80 663h1v16h-1zM84 661h1v18h-1zM88 660h1v19h-1zM92 660h1v19h-1zM96 660h1v19h-1zM100 662h1v17h-1zM104 664h1v15h-1zM108 668h1v11h-1zM112 672h1v7h-1zM116 676h1v3h-1zM120 678h1v1h-1zM124 678h1v3h-1zM128 678h1v4h-1zM132 678h1v5h-1zM136 678h1v4h-1zM140 678h1v4h-1zM144 678h1v4h-1zM148 678h1v4h-1zM152 678h1v5h-1zM156 678h1v7h-1zM160 678h1v7h-1zM164 678h1v7h-1zM168 678h1v7h-1zM172 678h1v7h-1zM176 678h1v9h-1zM180 678h1v12h-1zM184 678h1v14h-1zM188 678h1v15h-1zM192 678h1v16h-1zM196 678h1v16h-1zM200 678h1v16h-1zM204 678h1v17h-1zM208 678h1v19h-1zM212 678h1v19h-1zM216 678h1v17h-1zM220 678h1v14h-1zM224 678h1v12h-1zM228 678h1v9h-1zM232 678h1v6h-1zM236 678h1v5h-1zM240 678h1v3h-1zM244 678h1v3h-1zM248 678h1v3h-1zM252 678h1v4h-1zM256 678h1v7h-1zM260 678h1v9h-1zM264 678h1v10h-1zM268 678h1v11h-1zM272 678h1v11h-1zM276 678h1v11h-1zM280 678h1v12h-1zM284 678h1v11h-1zM288 678h1v10h-1zM292 678h1v10h-1zM296 678h1v12h-1zM300 678h1v13h-1zM304 678h1v15h-1zM308 678h1v17h-1zM312 678h1v19h-1zM316 678h1v21h-1zM320 678h1v22h-1zM324 678h1v22h-1zM328 678h1v21h-1zM332 678h1v19h-1zM336 678h1v17h-1zM340 678h1v16h-1zM344 678h1v14h-1zM348 678h1v13h-1zM352 678h1v12h-1zM356 678h1v10h-1zM360 678h1v9h-1zM364 678h1v8h-1zM368 678h1v8h-1zM372 678h1v7h-1zM376 678h1v7h-1zM380 678h1v8h-1zM384 678h1v9h-1zM388 678h1v9h-1zM392 678h1v11h-1zM396 678h1v12h-1zM400 678h1v13h-1zM404 678h1v15h-1zM408 678h1v16h-1zM412 678h1v17h-1zM416 678h1v17h-1zM420 678h1v16h-1zM424 678h1v15h-1zM428 678h1v13h-1zM432 678h1v12h-1zM436 678h1v11h-1zM440 678h1v10h-1zM444 678h1v9h-1zM448 678h1v7h-1zM452 678h1v5h-1zM456 678h1v3h-1zM460 678h1v2h-1zM464 678h1v1h-1zM468 676h1v3h-1zM472 673h1v6h-1zM476 670h1v9h-1zM480 666h1v13h-1zM484 664h1v15h-1zM488 663h1v16h-1zM492 664h1v15h-1zM496 665h1v14h-1zM500 667h1v12h-1zM504 668h1v11h-1zM508 668h1v11h-1zM512 668h1v11h-1zM516 668h1v11h-1zM520 666h1v13h-1zM524 665h1v14h-1zM528 664h1v15h-1zM532 665h1v14h-1zM536 667h1v12h-1zM540 670h1v9h-1zM544 674h1v5h-1zM548 676h1v3h-1zM552 678h1v1h-1zM556 678h1v2h-1zM560 678h1v4h-1zM564 678h1v5h-1zM568 678h1v7h-1zM572 678h1v7h-1zM576 678h1v6h-1zM580 678h1v5h-1zM584 678h1v5h-1zM588 678h1v4h-1zM592 678h1v5h-1zM596 678h1v5h-1zM600 678h1v5h-1zM604 678h1v6h-1zM608 678h1v6h-1zM612 678h1v7h-1zM616 678h1v7h-1zM620 678h1v7h-1zM624 678h1v7h-1zM628 678h1v6h-1zM632 678h1v4h-1zM636 678h1v3h-1zM640 678h1v3h-1zM644 678h1v2h-1zM648 678h1v2h-1zM652 678h1v1h-1zM656 677h1v2h-1zM660 676h1v3h-1zM664 675h1v4h-1zM668 673h1v6h-1zM672 672h1v7h-1zM676 671h1v8h-1zM680 670h1v9h-1zM684 669h1v10h-1zM688 671h1v8h-1zM692 672h1v7h-1zM696 673h1v6h-1zM700 674h1v5h-1zM704 675h1v4h-1zM708 676h1v3h-1zM712 676h1v3h-1zM716 675h1v4h-1zM720 673h1v6h-1zM724 669h1v10h-1zM728 666h1v13h-1zM732 664h1v15h-1zM736 664h1v15h-1zM740 664h1v15h-1zM744 665h1v14h-1zM748 667h1v12h-1zM752 669h1v10h-1zM756 671h1v8h-1zM760 673h1v6h-1zM764 675h1v4h-1zM768 676h1v3h-1zM772 676h1v3h-1zM776 676h1v3h-1zM780 677h1v2h-1zM784 677h1v2h-1zM788 678h1v1h-1zM792 678h1v2h-1zM796 678h1v3h-1zM800 678h1v4h-1zM804 678h1v5h-1zM808 678h1v7h-1zM812 678h1v8h-1zM816 678h1v10h-1zM820 678h1v11h-1zM824 678h1v13h-1zM828 678h1v15h-1zM832 678h1v14h-1zM836 678h1v13h-1zM840 678h1v11h-1zM844 678h1v10h-1zM848 678h1v10h-1zM852 678h1v11h-1zM856 678h1v12h-1zM860 678h1v14h-1zM864 678h1v16h-1zM868 678h1v18h-1zM872 678h1v20h-1zM876 678h1v22h-1zM880 678h1v24h-1zM884 678h1v26h-1zM888 678h1v28h-1zM892 678h1v29h-1zM896 678h1v31h-1zM900 678h1v31h-1zM904 678h1v31h-1zM908 678h1v30h-1zM912 678h1v28h-1zM916 678h1v26h-1zM920 678h1v23h-1zM924 678h1v20h-1zM928 678h1v15h-1zM932 678h1v12h-1zM936 678h1v8h-1zM940 678h1v2h-1zM944 670h1v9h-1zM948 665h1v14h-1zM952 660h1v19h-1zM956 651h1v28h-1zM960 645h1v34h-1zM964 637h1v42h-1zM968 634h1v45h-1zM972 633h1v46h-1zM976 640h1v39h-1zM980 647h1v32h-1zM984 652h1v27h-1zM988 656h1v23h-1zM992 663h1v16h-1zM996 673h1v6h-1zM1000 678h1v10h-1zM1004 678h1v21h-1zM1008 678h1v31h-1zM1012 678h1v34h-1zM1016 678h1v36h-1zM1020 678h1v35h-1zM1024 678h1v27h-1zM1028 678h1v20h-1zM1032 678h1v12h-1zM1036 678h1v8h-1zM1040 678h1v5h-1zM1044 678h1v6h-1zM1048 678h1v10h-1zM1052 678h1v15h-1zM1056 678h1v18h-1zM1060 678h1v19h-1zM1064 678h1v19h-1zM1068 678h1v18h-1zM1072 678h1v15h-1zM1076 678h1v13h-1zM1080 678h1v12h-1zM1084 678h1v11h-1zM1088 678h1v8h-1zM1092 678h1v7h-1zM1096 678h1v8h-1zM1100 678h1v9h-1zM1104 678h1v10h-1zM1108 678h1v10h-1zM1112 678h1v11h-1zM1116 678h1v12h-1zM1120 678h1v13h-1zM1124 678h1v15h-1zM1128 678h1v16h-1zM1132 678h1v16h-1zM1136 678h1v15h-1zM1140 678h1v13h-1zM1144 678h1v10h-1zM1148 678h1v6h-1zM1152 678h1v2h-1zM1156 678h1v2h-1zM1160 678h1v2h-1zM1164 678h1v4h-1zM1168 678h1v6h-1zM1172 678h1v6h-1zM1176 678h1v7h-1zM1180 678h1v7h-1zM1184 678h1v7h-1zM1188 678h1v8h-1zM1192 678h1v9h-1zM1196 678h1v9h-1zM1200 678h1v9h-1zM1204 678h1v7h-1zM1208 678h1v4h-1z" fill="#c0c0c0"/>
<path d="M4.0 683.2L12.1 682.4L18.8 680.5L24.2 677.8L29.6 675.1L35.0 672.4L40.4 669.7L45.7 667.6L51.1 667.0L56.5 667.6L61.9 669.2L67.3 670.3L72.6 671.6L78.0 671.1L83.4 669.7L88.8 667.6L94.2 665.2L99.5 663.5L104.9 662.5L110.3 662.5L115.7 663.8L121.1 666.5L126.4 669.7L131.8 673.0L137.2 675.9L142.6 678.6L148.0 680.5L153.3 681.8L158.7 682.4L164.1 682.6L169.5 683.7L174.9 684.5L180.3 685.9L185.6 687.2L191.0 688.6L196.4 689.4L201.8 690.7L207.2 693.4L212.5 695.3L217.9 695.3L223.3 694.5L228.7 693.1L234.1 691.3L239.4 689.4L244.8 687.8L250.2 685.3L255.6 683.7L261.0 683.2L266.3 683.2L271.7 683.7L277.1 685.3L282.5 686.7L287.9 688.0L293.2 688.0L298.6 688.6L304.0 689.4L309.4 689.9L314.8 690.7L320.2 692.6L325.5 693.9L330.9 695.3L336.3 696.1L341.7 696.6L347.1 696.1L352.4 695.3L357.8 693.4L363.2 691.3L368.6 689.4L374.0 688.0L379.3 686.7L384.7 686.4L390.1 686.4L395.5 686.7L400.9 687.8L406.2 688.6L412.7 689.4L418.1 691.3L423.5 692.6L430.2 693.1L436.9 692.1L443.6 691.3L450.4 689.4L455.7 687.2L461.1 685.1L466.5 682.6L471.9 680.0L477.3 677.0L482.6 674.3L488.0 671.1L493.4 668.4L498.8 666.2L504.2 664.9L509.5 664.4L514.9 664.4L520.3 665.2L525.7 665.2L531.1 664.9L536.4 665.2L541.8 666.2L547.2 666.5L552.6 668.4L558.0 671.1L563.3 673.8L568.7 677.8L574.1 680.5L579.5 681.3L584.9 681.8L592.9 682.4L601.0 682.4L609.1 681.8L614.5 682.6L622.5 683.2L630.6 683.2L638.7 682.6L646.8 681.8L652.1 681.0L657.5 678.6L662.9 677.8L668.3 675.7L673.7 674.6L679.0 673.2L684.4 671.9L689.8 671.1L695.2 670.5L700.6 670.5L705.9 670.5L711.3 671.9L716.7 672.4L722.1 672.4L727.5 671.1L732.8 669.7L738.2 668.4L743.6 667.0L749.0 666.2L754.4 665.2L759.7 665.7L765.1 666.5L770.5 668.4L775.9 670.3L781.3 672.4L786.6 673.8L792.0 675.1L797.4 676.5L802.8 677.8L808.2 679.2L813.6 680.5L820.5 683.7L825.4 686.4L832.1 688.0L838.8 689.4L846.9 689.4L855.0 689.4L863.0 689.9L871.1 691.3L879.2 693.9L887.3 697.4L895.3 702.0L903.4 704.2L911.5 706.1L918.2 706.6L924.9 706.1L930.3 703.9L935.7 700.1L941.1 695.3L946.4 688.6L951.8 680.5L957.2 673.8L962.6 665.7L968.0 657.6L973.3 650.9L978.7 646.1L984.1 643.6L989.5 643.4L994.9 646.9L1000.3 653.1L1005.6 663.0L1011.0 674.6L1016.4 685.9L1021.8 693.9L1027.2 699.9L1032.5 703.9L1037.9 702.0L1043.3 698.8L1048.7 694.5L1054.1 690.7L1059.4 690.5L1067.5 690.5L1074.2 692.1L1081.0 692.6L1087.7 691.8L1094.4 689.9L1101.1 688.0L1107.9 686.7L1114.6 686.4L1121.3 688.0L1128.0 689.4L1134.8 689.9L1141.5 690.5L1148.2 689.9L1154.9 688.0L1161.7 685.3L1168.4 683.2L1175.1 681.8L1181.9 681.8L1188.6 682.6L1195.3 684.5L1202.0 685.9L1207.4 685.9" fill="none" stroke="#ff0000" stroke-width="1" stroke-dasharray="3 3" shape-rendering="crispEdges" stroke-linejoin="round"/>
<path d="M7 32h7l-3.5 4z" fill="#000"/>
<text x="19.2" y="37" font-size="10" fill="#000" text-anchor="start" textLength="63.8" lengthAdjust="spacingAndGlyphs" stroke="#000" stroke-width="0.15">EURUSD,Daily</text>
<text x="89.7" y="37" font-size="10" fill="#000" text-anchor="start" textLength="32.6" lengthAdjust="spacingAndGlyphs" stroke="#000" stroke-width="0.15">1.09028</text>
<text x="126.2" y="37" font-size="10" fill="#000" text-anchor="start" textLength="31.7" lengthAdjust="spacingAndGlyphs" stroke="#000" stroke-width="0.15">1.09261</text>
<text x="161.8" y="37" font-size="10" fill="#000" text-anchor="start" textLength="32.4" lengthAdjust="spacingAndGlyphs" stroke="#000" stroke-width="0.15">1.08984</text>
<text x="197.7" y="37" font-size="10" fill="#000" text-anchor="start" textLength="32.3" lengthAdjust="spacingAndGlyphs" stroke="#000" stroke-width="0.15">1.09179</text>
<text x="8.3" y="545" font-size="10" fill="#000" text-anchor="start" textLength="67.5" lengthAdjust="spacingAndGlyphs" stroke="#000" stroke-width="0.15">RSI(14) 56.0221</text>
<text x="8.3" y="639" font-size="10" fill="#000" text-anchor="start" textLength="154" lengthAdjust="spacingAndGlyphs" stroke="#000" stroke-width="0.15">MACD(12,26,9) -0.000594 -0.001470</text>
<rect x="1520" y="32" width="2" height="1" fill="#000" />
<text x="1525.2" y="36" font-size="10" fill="#000" text-anchor="start" textLength="32.8" lengthAdjust="spacingAndGlyphs" stroke="#000" stroke-width="0.15">1.15280</text>
<rect x="1520" y="65" width="2" height="1" fill="#000" />
<text x="1525.2" y="69" font-size="10" fill="#000" text-anchor="start" textLength="32.8" lengthAdjust="spacingAndGlyphs" stroke="#000" stroke-width="0.15">1.14680</text>
<rect x="1520" y="98" width="2" height="1" fill="#000" />
<text x="1525.2" y="102" font-size="10" fill="#000" text-anchor="start" textLength="32.8" lengthAdjust="spacingAndGlyphs" stroke="#000" stroke-width="0.15">1.14065</text>
<rect x="1520" y="131" width="2" height="1" fill="#000" />
<text x="1525.2" y="135" font-size="10" fill="#000" text-anchor="start" textLength="32.8" lengthAdjust="spacingAndGlyphs" stroke="#000" stroke-width="0.15">1.13465</text>
<rect x="1520" y="164" width="2" height="1" fill="#000" />
<text x="1525.2" y="168" font-size="10" fill="#000" text-anchor="start" textLength="32.8" lengthAdjust="spacingAndGlyphs" stroke="#000" stroke-width="0.15">1.12865</text>
<rect x="1520" y="197" width="2" height="1" fill="#000" />
<text x="1525.2" y="201" font-size="10" fill="#000" text-anchor="start" textLength="32.8" lengthAdjust="spacingAndGlyphs" stroke="#000" stroke-width="0.15">1.12250</text>
<rect x="1520" y="230" width="2" height="1" fill="#000" />
<text x="1525.2" y="234" font-size="10" fill="#000" text-anchor="start" textLength="32.8" lengthAdjust="spacingAndGlyphs" stroke="#000" stroke-width="0.15">1.11650</text>
<rect x="1520" y="296" width="2" height="1" fill="#000" />
<text x="1525.2" y="300" font-size="10" fill="#000" text-anchor="start" textLength="32.8" lengthAdjust="spacingAndGlyphs" stroke="#000" stroke-width="0.15">1.10435</text>
<rect x="1520" y="329" width="2" height="1" fill="#000" />
<text x="1525.2" y="333" font-size="10" fill="#000" text-anchor="start" textLength="32.8" lengthAdjust="spacingAndGlyphs" stroke="#000" stroke-width="0.15">1.09835</text>
<rect x="1520" y="395" width="2" height="1" fill="#000" />
<text x="1525.2" y="399" font-size="10" fill="#000" text-anchor="start" textLength="32.8" lengthAdjust="spacingAndGlyphs" stroke="#000" stroke-width="0.15">1.08620</text>
<rect x="1520" y="428" width="2" height="1" fill="#000" />
<text x="1525.2" y="432" font-size="10" fill="#000" text-anchor="start" textLength="32.8" lengthAdjust="spacingAndGlyphs" stroke="#000" stroke-width="0.15">1.08020</text>
<rect x="1520" y="461" width="2" height="1" fill="#000" />
<text x="1525.2" y="465" font-size="10" fill="#000" text-anchor="start" textLength="32.8" lengthAdjust="spacingAndGlyphs" stroke="#000" stroke-width="0.15">1.07420</text>
<rect x="1520" y="494" width="2" height="1" fill="#000" />
<text x="1525.2" y="498" font-size="10" fill="#000" text-anchor="start" textLength="32.8" lengthAdjust="spacingAndGlyphs" stroke="#000" stroke-width="0.15">1.06805</text>
<rect x="1520" y="527" width="2" height="1" fill="#000" />
<text x="1525.2" y="531" font-size="10" fill="#000" text-anchor="start" textLength="32.8" lengthAdjust="spacingAndGlyphs" stroke="#000" stroke-width="0.15">1.06205</text>
<rect x="4" y="365" width="1515" height="1" fill="#c0c0c0" />
<rect x="4" y="154" width="1515" height="2" fill="#ff0000" />
<rect x="1521" y="149" width="40" height="11" fill="#ff0000" />
<text x="1525.2" y="158" font-size="10" fill="#fff" text-anchor="start" textLength="32.8" lengthAdjust="spacingAndGlyphs" stroke="#fff" stroke-width="0.15">1.13034</text>
<rect x="4" y="210" width="1515" height="2" fill="#ff0000" />
<rect x="1521" y="205" width="40" height="11" fill="#ff0000" />
<text x="1525.2" y="214" font-size="10" fill="#fff" text-anchor="start" textLength="32.8" lengthAdjust="spacingAndGlyphs" stroke="#fff" stroke-width="0.15">1.12004</text>
<rect x="4" y="264" width="1515" height="2" fill="#ff0000" />
<rect x="1521" y="259" width="40" height="11" fill="#ff0000" />
<text x="1525.2" y="268" font-size="10" fill="#fff" text-anchor="start" textLength="32.8" lengthAdjust="spacingAndGlyphs" stroke="#fff" stroke-width="0.15">1.11009</text>
<rect x="4" y="319" width="1515" height="2" fill="#ff0000" />
<rect x="1521" y="314" width="40" height="11" fill="#ff0000" />
<text x="1525.2" y="323" font-size="10" fill="#fff" text-anchor="start" textLength="32.8" lengthAdjust="spacingAndGlyphs" stroke="#fff" stroke-width="0.15">1.10008</text>
<rect x="4" y="384" width="1515" height="2" fill="#00ff00" />
<rect x="1521" y="379" width="40" height="11" fill="#00ff00" />
<text x="1525.2" y="388" font-size="10" fill="#fff" text-anchor="start" textLength="32.8" lengthAdjust="spacingAndGlyphs" stroke="#fff" stroke-width="0.15">1.08800</text>
<rect x="4" y="445" width="1515" height="2" fill="#0000ff" />
<rect x="1521" y="440" width="40" height="11" fill="#0000ff" />
<text x="1525.2" y="449" font-size="10" fill="#fff" text-anchor="start" textLength="32.8" lengthAdjust="spacingAndGlyphs" stroke="#fff" stroke-width="0.15">1.07697</text>
<rect x="4" y="521" width="1515" height="2" fill="#0000ff" />
<rect x="1521" y="516" width="40" height="11" fill="#0000ff" />
<text x="1525.2" y="525" font-size="10" fill="#fff" text-anchor="start" textLength="32.8" lengthAdjust="spacingAndGlyphs" stroke="#fff" stroke-width="0.15">1.06306</text>
<rect x="1521" y="360" width="40" height="11" fill="#000" />
<text x="1525.2" y="369" font-size="10" fill="#fff" text-anchor="start" textLength="32.8" lengthAdjust="spacingAndGlyphs" stroke="#fff" stroke-width="0.15">1.09179</text>
<rect x="1519" y="25" width="1" height="506" fill="#000" />
<text x="1523.6" y="543" font-size="10" fill="#000" text-anchor="start" textLength="15.0" lengthAdjust="spacingAndGlyphs" stroke="#000" stroke-width="0.15">100</text>
<text x="1523.6" y="564" font-size="10" fill="#000" text-anchor="start" textLength="10.0" lengthAdjust="spacingAndGlyphs" stroke="#000" stroke-width="0.15">70</text>
<text x="1523.6" y="600" font-size="10" fill="#000" text-anchor="start" textLength="10.0" lengthAdjust="spacingAndGlyphs" stroke="#000" stroke-width="0.15">30</text>
<text x="1523.6" y="621" font-size="10" fill="#000" text-anchor="start" textLength="5.0" lengthAdjust="spacingAndGlyphs" stroke="#000" stroke-width="0.15">0</text>
<rect x="1520" y="532" width="2" height="1" fill="#000" />
<rect x="1520" y="623" width="2" height="1" fill="#000" />
<path d="M4 560.5H1519" stroke="#c0c0c0" stroke-width="1" stroke-dasharray="3 3" fill="none"/>
<path d="M4 596.5H1519" stroke="#c0c0c0" stroke-width="1" stroke-dasharray="3 3" fill="none"/>
<rect x="1520" y="626" width="2" height="1" fill="#000" />
<rect x="1520" y="678" width="2" height="1" fill="#000" />
<rect x="1520" y="718" width="2" height="1" fill="#000" />
<text x="1523.6" y="637" font-size="10" fill="#000" text-anchor="start" textLength="37.4" lengthAdjust="spacingAndGlyphs" stroke="#000" stroke-width="0.15">0.011277</text>
<text x="1523.6" y="682" font-size="10" fill="#000" text-anchor="start" textLength="17.5" lengthAdjust="spacingAndGlyphs" stroke="#000" stroke-width="0.15">0.00</text>
<text x="1523.6" y="716" font-size="10" fill="#000" text-anchor="start" textLength="37.4" lengthAdjust="spacingAndGlyphs" stroke="#000" stroke-width="0.15">-0.008845</text>
<path d="M1210 26h9l-4.5 5z" fill="#c0c0c0"/>
<rect x="4" y="719" width="1" height="3" fill="#000" />
<text x="3.3" y="731" font-size="10" fill="#000" text-anchor="start" textLength="44.7" lengthAdjust="spacingAndGlyphs" stroke="#000" stroke-width="0.15">3 Jun 2019</text>
<rect x="68" y="719" width="1" height="3" fill="#000" />
<text x="67.3" y="731" font-size="10" fill="#000" text-anchor="start" textLength="49.2" lengthAdjust="spacingAndGlyphs" stroke="#000" stroke-width="0.15">21 Jun 2019</text>
<rect x="132" y="719" width="1" height="3" fill="#000" />
<text x="131.3" y="731" font-size="10" fill="#000" text-anchor="start" textLength="46.3" lengthAdjust="spacingAndGlyphs" stroke="#000" stroke-width="0.15">10 Jul 2019</text>
<rect x="196" y="719" width="1" height="3" fill="#000" />
<text x="195.3" y="731" font-size="10" fill="#000" text-anchor="start" textLength="46" lengthAdjust="spacingAndGlyphs" stroke="#000" stroke-width="0.15">29 Jul 2019</text>
<rect x="260" y="719" width="1" height="3" fill="#000" />
<text x="259.3" y="731" font-size="10" fill="#000" text-anchor="start" textLength="51.9" lengthAdjust="spacingAndGlyphs" stroke="#000" stroke-width="0.15">16 Aug 2019</text>
<rect x="324" y="719" width="1" height="3" fill="#000" />
<text x="323.3" y="731" font-size="10" fill="#000" text-anchor="start" textLength="46.3" lengthAdjust="spacingAndGlyphs" stroke="#000" stroke-width="0.15">4 Sep 2019</text>
<rect x="388" y="719" width="1" height="3" fill="#000" />
<text x="387.3" y="731" font-size="10" fill="#000" text-anchor="start" textLength="51.3" lengthAdjust="spacingAndGlyphs" stroke="#000" stroke-width="0.15">23 Sep 2019</text>
<rect x="452" y="719" width="1" height="3" fill="#000" />
<text x="451.3" y="731" font-size="10" fill="#000" text-anchor="start" textLength="50.3" lengthAdjust="spacingAndGlyphs" stroke="#000" stroke-width="0.15">11 Oct 2019</text>
<rect x="516" y="719" width="1" height="3" fill="#000" />
<text x="515.3" y="731" font-size="10" fill="#000" text-anchor="start" textLength="50.3" lengthAdjust="spacingAndGlyphs" stroke="#000" stroke-width="0.15">30 Oct 2019</text>
<rect x="580" y="719" width="1" height="3" fill="#000" />
<text x="579.3" y="731" font-size="10" fill="#000" text-anchor="start" textLength="53.3" lengthAdjust="spacingAndGlyphs" stroke="#000" stroke-width="0.15">18 Nov 2019</text>
<rect x="644" y="719" width="1" height="3" fill="#000" />
<text x="643.3" y="731" font-size="10" fill="#000" text-anchor="start" textLength="46.3" lengthAdjust="spacingAndGlyphs" stroke="#000" stroke-width="0.15">6 Dec 2019</text>
<rect x="708" y="719" width="1" height="3" fill="#000" />
<text x="707.3" y="731" font-size="10" fill="#000" text-anchor="start" textLength="51.4" lengthAdjust="spacingAndGlyphs" stroke="#000" stroke-width="0.15">25 Dec 2019</text>
<rect x="772" y="719" width="1" height="3" fill="#000" />
<text x="771.3" y="731" font-size="10" fill="#000" text-anchor="start" textLength="49.8" lengthAdjust="spacingAndGlyphs" stroke="#000" stroke-width="0.15">13 Jan 2020</text>
<rect x="836" y="719" width="1" height="3" fill="#000" />
<text x="835.3" y="731" font-size="10" fill="#000" text-anchor="start" textLength="49.5" lengthAdjust="spacingAndGlyphs" stroke="#000" stroke-width="0.15">31 Jan 2020</text>
<rect x="900" y="719" width="1" height="3" fill="#000" />
<text x="899.3" y="731" font-size="10" fill="#000" text-anchor="start" textLength="51.9" lengthAdjust="spacingAndGlyphs" stroke="#000" stroke-width="0.15">19 Feb 2020</text>
<rect x="964" y="719" width="1" height="3" fill="#000" />
<text x="963.3" y="731" font-size="10" fill="#000" text-anchor="start" textLength="46.5" lengthAdjust="spacingAndGlyphs" stroke="#000" stroke-width="0.15">9 Mar 2020</text>
<rect x="1028" y="719" width="1" height="3" fill="#000" />
<text x="1027.3" y="731" font-size="10" fill="#000" text-anchor="start" textLength="51.6" lengthAdjust="spacingAndGlyphs" stroke="#000" stroke-width="0.15">27 Mar 2020</text>
<rect x="1092" y="719" width="1" height="3" fill="#000" />
<text x="1091.3" y="731" font-size="10" fill="#000" text-anchor="start" textLength="50.1" lengthAdjust="spacingAndGlyphs" stroke="#000" stroke-width="0.15">15 Apr 2020</text>
<rect x="1156" y="719" width="1" height="3" fill="#000" />
<text x="1155.3" y="731" font-size="10" fill="#000" text-anchor="start" textLength="48.9" lengthAdjust="spacingAndGlyphs" stroke="#000" stroke-width="0.15">4 May 2020</text>
<rect x="0" y="739" width="1561" height="1" fill="#e3e3e3" />
<rect x="0" y="741" width="1561" height="20" fill="#f0f0f0" />
<rect x="0" y="741" width="1561" height="1" fill="#000" />
<rect x="0" y="742" width="1561" height="1" fill="#fbfbfb" />
<rect x="0" y="742" width="1" height="19" fill="#696969" />
<rect x="5" y="741" width="104" height="19" fill="#000" />
<rect x="6" y="741" width="102" height="18" fill="#fff" />
<rect x="6" y="760" width="103" height="1" fill="#a0a0a0" />
<text x="17.5" y="756" font-size="13" fill="#000" text-anchor="start" textLength="79.5" lengthAdjust="spacingAndGlyphs" >EURUSD,Daily</text>
<text x="119" y="756" font-size="13" fill="#686868" text-anchor="start" textLength="79" lengthAdjust="spacingAndGlyphs" >USDCHF,Daily</text>
<text x="220.5" y="756" font-size="13" fill="#686868" text-anchor="start" textLength="81.5" lengthAdjust="spacingAndGlyphs" >AUDUSD,Daily</text>
<text x="324" y="756" font-size="13" fill="#686868" text-anchor="start" textLength="81" lengthAdjust="spacingAndGlyphs" >USDCAD,Daily</text>
<text x="427.4" y="756" font-size="13" fill="#686868" text-anchor="start" textLength="82.6" lengthAdjust="spacingAndGlyphs" >USDCNH,Daily</text>
<text x="533" y="756" font-size="13" fill="#686868" text-anchor="start" textLength="79.7" lengthAdjust="spacingAndGlyphs" >EURUSD,Daily</text>
<text x="637" y="756" font-size="13" fill="#686868" text-anchor="start" textLength="80" lengthAdjust="spacingAndGlyphs" >GBPUSD,Daily</text>
<text x="741" y="756" font-size="13" fill="#686868" text-anchor="start" textLength="99.5" lengthAdjust="spacingAndGlyphs" >XAUUSD,Monthly</text>
<text x="864" y="756" font-size="13" fill="#686868" text-anchor="start" textLength="49.5" lengthAdjust="spacingAndGlyphs" >HK50,H1</text>
<text x="936.6" y="756" font-size="13" fill="#686868" text-anchor="start" textLength="56.1" lengthAdjust="spacingAndGlyphs" >UK100,H1</text>
<text x="1016.5" y="756" font-size="13" fill="#686868" text-anchor="start" textLength="55.9" lengthAdjust="spacingAndGlyphs" >UK100,H1</text>
<text x="1096" y="756" font-size="13" fill="#686868" text-anchor="start" textLength="56.3" lengthAdjust="spacingAndGlyphs" >GER30,H1</text>
<text x="1175" y="756" font-size="13" fill="#686868" text-anchor="start" textLength="54.5" lengthAdjust="spacingAndGlyphs" >FRA40,H1</text>
<text x="1251.3" y="756" font-size="13" fill="#686868" text-anchor="start" textLength="62.5" lengthAdjust="spacingAndGlyphs" >USOil,Daily</text>
<text x="1335.5" y="756" font-size="13" fill="#686868" text-anchor="start" textLength="61.7" lengthAdjust="spacingAndGlyphs" >USDJPY,H1</text>
<text x="1419.2" y="756" font-size="13" fill="#686868" text-anchor="start" textLength="46.4" lengthAdjust="spacingAndGlyphs" >DJ30,H4</text>
<rect x="209" y="745" width="1" height="13" fill="#606060" />
<rect x="313" y="745" width="1" height="13" fill="#606060" />
<rect x="417" y="745" width="1" height="13" fill="#606060" />
<rect x="521" y="745" width="1" height="13" fill="#606060" />
<rect x="625" y="745" width="1" height="13" fill="#606060" />
<rect x="730" y="745" width="1" height="13" fill="#606060" />
<rect x="853" y="745" width="1" height="13" fill="#606060" />
<rect x="925" y="745" width="1" height="13" fill="#606060" />
<rect x="1005" y="745" width="1" height="13" fill="#606060" />
<rect x="1085" y="745" width="1" height="13" fill="#606060" />
<rect x="1166" y="745" width="1" height="13" fill="#606060" />
<rect x="1241" y="745" width="1" height="13" fill="#606060" />
<rect x="1325" y="745" width="1" height="13" fill="#606060" />
<rect x="1409" y="745" width="1" height="13" fill="#606060" />
<rect x="1477" y="745" width="1" height="13" fill="#606060" />
<path d="M1539 747v7l-4-3.5z" fill="#a0a0a0"/>
<path d="M1553 747v7l4-3.5z" fill="#a0a0a0"/>
</svg>
</body></html>
